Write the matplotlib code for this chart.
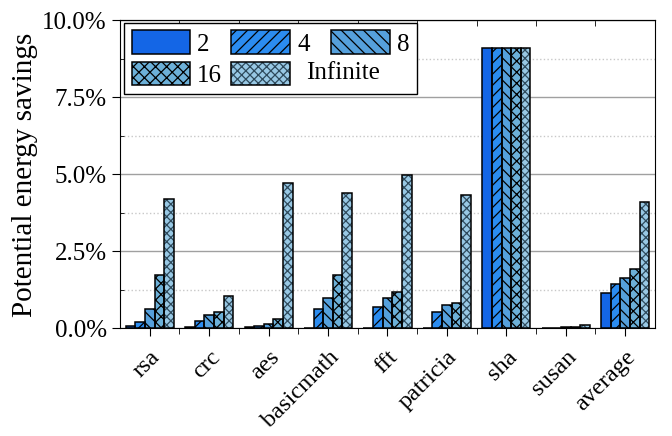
import numpy as np
import matplotlib
matplotlib.use('Agg')
import matplotlib.pyplot as plt
from matplotlib.ticker import MultipleLocator, FixedLocator, PercentFormatter

plt.rcParams['font.family'] = 'serif'
plt.rcParams['font.serif'] = ['Liberation Serif', 'DejaVu Serif']
plt.rcParams['hatch.linewidth'] = 0.9

benchmarks = ['rsa', 'crc', 'aes', 'basicmath', 'fft', 'patricia', 'sha', 'susan', 'average']
configs = ['2', '4', '8', '16', 'Infinite']

# potential energy savings (%) per config
save_2   = [0.07, 0.04, 0.04, 0.01, 0.00, 0.01, 9.10, 0.00, 1.16]
save_4   = [0.21, 0.24, 0.07, 0.64, 0.68, 0.54, 9.10, 0.00, 1.43]
save_8   = [0.62, 0.44, 0.15, 0.97, 1.00, 0.76, 9.10, 0.05, 1.65]
save_16  = [1.73, 0.54, 0.29, 1.73, 1.17, 0.82, 9.10, 0.05, 1.94]
save_inf = [4.19, 1.06, 4.73, 4.40, 4.98, 4.33, 9.10, 0.10, 4.11]

series = [save_2, save_4, save_8, save_16, save_inf]
colors = ['#1466e6', '#2b8cf0', '#55a0dc', '#6cb0d8', '#98c8e4']
hatches = ['', '///', '\\\\\\', 'xxx', 'xxxx']
hcolors = ['black', 'black', 'black', 'black', '#2e4a5c']

fig = plt.figure(figsize=(6.72, 4.36), dpi=100)
ax = fig.add_axes([0.1786, 0.247, 0.796, 0.706])

x = np.arange(len(benchmarks))
w = 0.162
bars = []
for i, (vals, c, h, hc) in enumerate(zip(series, colors, hatches, hcolors)):
    # fill + hatch (hatch takes the edge colour), then a black outline on top
    bf = ax.bar(x + (i - 2) * w, vals, w, color=c, edgecolor=hc, linewidth=0,
                hatch=h, zorder=3)
    be = ax.bar(x + (i - 2) * w, vals, w, fill=False, edgecolor='black', linewidth=1.1,
                zorder=4)
    bars.append((bf, be))

ax.set_xlim(-0.5, len(benchmarks) - 0.5)
ax.set_ylim(0, 10)
ax.yaxis.set_major_locator(MultipleLocator(2.5))
ax.yaxis.set_minor_locator(MultipleLocator(1.25))
ax.yaxis.set_major_formatter(PercentFormatter(decimals=1))
ax.grid(axis='y', which='major', color='#a0a0a0', linewidth=1.0, zorder=0)
ax.grid(axis='y', which='minor', color='#c8c8c8', linestyle=':', linewidth=1.0, zorder=0)

ax.set_xticks(x)
ax.set_xticklabels(benchmarks, rotation=45, ha='right', rotation_mode='anchor', fontsize=17.5)
ax.xaxis.set_minor_locator(FixedLocator(np.arange(0.5, len(benchmarks) - 0.5, 1)))
ax.tick_params(axis='x', which='major', length=6, direction='out', pad=7)
ax.tick_params(axis='x', which='minor', length=4, direction='out')
ax.tick_params(axis='y', which='major', length=6, direction='out', labelsize=18)
ax.tick_params(axis='y', which='minor', length=3, direction='in')
ax.set_ylabel('Potential energy savings', fontsize=21, labelpad=3)

top = ax.secondary_xaxis('top')
top.set_xticks([])
top.xaxis.set_minor_locator(FixedLocator(np.arange(0.5, len(benchmarks) - 0.5, 1)))
top.tick_params(which='minor', direction='in', length=4)

# legend filled row by row: 2 4 8 / 16 Infinite
order = [0, 3, 1, 4, 2]
handles = [bars[i] for i in order]
labels = [configs[i] if i != 4 else '    ' for i in order]
leg = ax.legend(handles, labels, loc='upper left', bbox_to_anchor=(0.0075, 0.992), ncol=3,
                fontsize=18, handlelength=2.35, handleheight=1.05, columnspacing=0.36,
                handletextpad=0.28, borderpad=0.3, borderaxespad=0, labelspacing=0.25,
                fancybox=False, edgecolor='black', framealpha=1)
leg.get_frame().set_linewidth(1.0)
leg.set_zorder(10)

fig.canvas.draw()
hb = leg.legend_handles[3].get_window_extent()
inv = fig.transFigure.inverted()
px, py = inv.transform((hb.x1 + 16, (hb.y0 + hb.y1) / 2))
fig.text(px, py, 'Infinite', fontsize=18, va='center', ha='left', zorder=11)

fig.savefig('out.png', dpi=100)
